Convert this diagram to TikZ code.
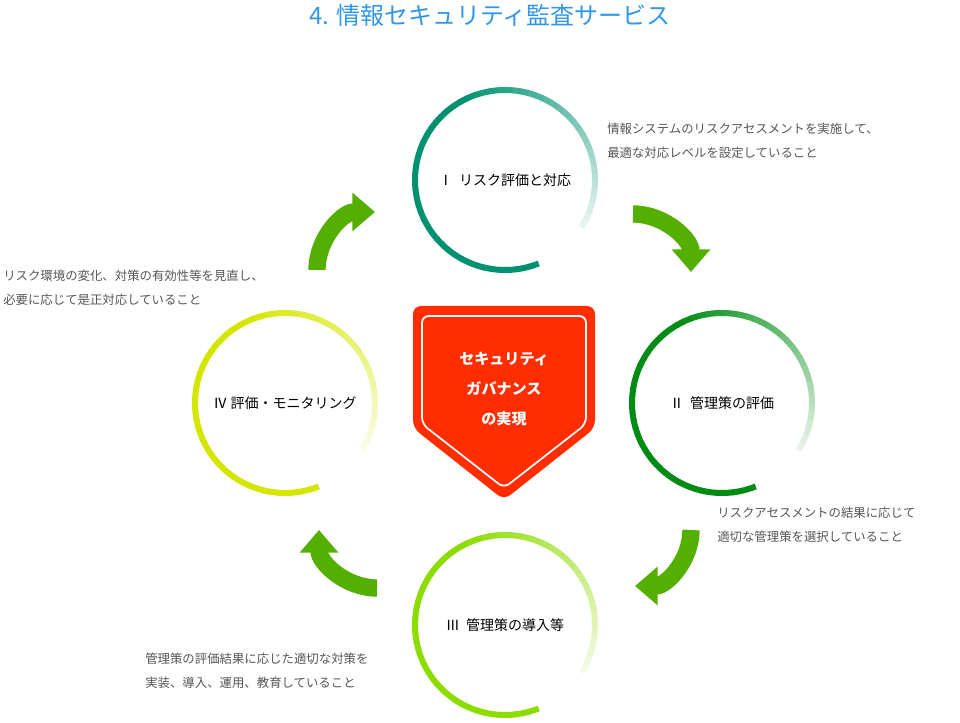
\documentclass[tikz,border=0pt]{standalone}
\usepackage{fontspec}
\setmainfont{Noto Sans CJK JP}
\usetikzlibrary{arrows.meta}
\definecolor{ttlblue}{RGB}{50,150,230}
\definecolor{ringA}{RGB}{0,146,112}
\definecolor{ringB}{RGB}{0,140,20}
\definecolor{ringC}{RGB}{140,220,0}
\definecolor{ringD}{RGB}{212,230,0}
\definecolor{arrgreen}{RGB}{85,175,0}
\definecolor{shieldred}{RGB}{255,45,0}
\definecolor{descgray}{RGB}{85,85,85}
% fading ring: #1 centre, #2 colour
\newcommand\fadering[2]{%
  \foreach \k in {0,...,63}{
    \pgfmathsetmacro\sa{-68-\k*5.05}
    \pgfmathsetmacro\pct{\k<34 ? 100 : 100-(\k-34)*90/29}
    \draw[ringline,color=#2!\pct!white] (#1) ++(\sa:90) arc[start angle=\sa,delta angle=-5.6,radius=90];
  }}
\begin{document}
\begin{tikzpicture}[x=0.75pt,y=0.75pt]
  \tikzset{ringline/.style={line width=4.5pt,line cap=butt},
    flow/.style={draw=arrgreen,line width=13pt,-{Triangle[width=28pt,length=17pt]}},
    circtext/.style={font=\fontsize{10.5}{12}\selectfont,text=black},
    desc/.style={anchor=north west,align=left,text=descgray,font=\fontsize{9.3}{18}\selectfont,inner sep=0pt}}
  \useasboundingbox (0,0) rectangle (960,723);

  \node[text=ttlblue,font=\fontsize{18}{20}\selectfont] (title) at (490,708) {4. 情報セキュリティ監査サービス};

  % rings
  \coordinate (cI) at (505,543);
  \coordinate (cII) at (722,320);
  \coordinate (cIII) at (505,98);
  \coordinate (cIV) at (285,320);
  \fadering{cI}{ringA}
  \fadering{cII}{ringB}
  \fadering{cIII}{ringC}
  \fadering{cIV}{ringD}

  \node[circtext] (lI) at (cI) {Ⅰ\ \ リスク評価と対応};
  \node[circtext] (lII) at (cII) {Ⅱ\ \ 管理策の評価};
  \node[circtext] (lIII) at (cIII) {Ⅲ\ \ 管理策の導入等};
  \node[circtext] (lIV) at (cIV) {Ⅳ 評価・モニタリング};

  % descriptions
  \node[desc] (dI) at (607,600) {情報システムのリスクアセスメントを実施して、\\最適な対応レベルを設定していること};
  \node[desc] (dIV) at (3,453) {リスク環境の変化、対策の有効性等を見直し、\\必要に応じて是正対応していること};
  \node[desc] (dII) at (717,216) {リスクアセスメントの結果に応じて\\適切な管理策を選択していること};
  \node[desc] (dIII) at (145,70) {管理策の評価結果に応じた適切な対策を\\実装、導入、運用、教育していること};

  % flow arrows
  \coordinate (aI) at (633,509);
  \coordinate (aII) at (691,193);
  \coordinate (aIII) at (377,135);
  \coordinate (aIV) at (317,453);
  \draw[flow] (aI) arc[start angle=90,end angle=0,radius=58];
  \draw[flow] (aII) arc[start angle=0,end angle=-90,radius=56];
  \draw[flow] (aIII) arc[start angle=-90,end angle=-180,radius=58];
  \draw[flow] (aIV) arc[start angle=180,end angle=90,radius=58];

  % shield
  \fill[shieldred,rounded corners=6pt] (413,417) -- (595,417) -- (595,295) -- (504,223) -- (413,295) -- cycle;
  \draw[white,line width=1.3pt,rounded corners=5pt] (422,407) -- (586,407) -- (586,299) -- (504,235) -- (422,299) -- cycle;
  \node[text=white,align=center,font=\bfseries\fontsize{11.3}{22.5}\selectfont] (core) at (504,334) {セキュリティ\\ガバナンス\\の実現};
\end{tikzpicture}
\end{document}
